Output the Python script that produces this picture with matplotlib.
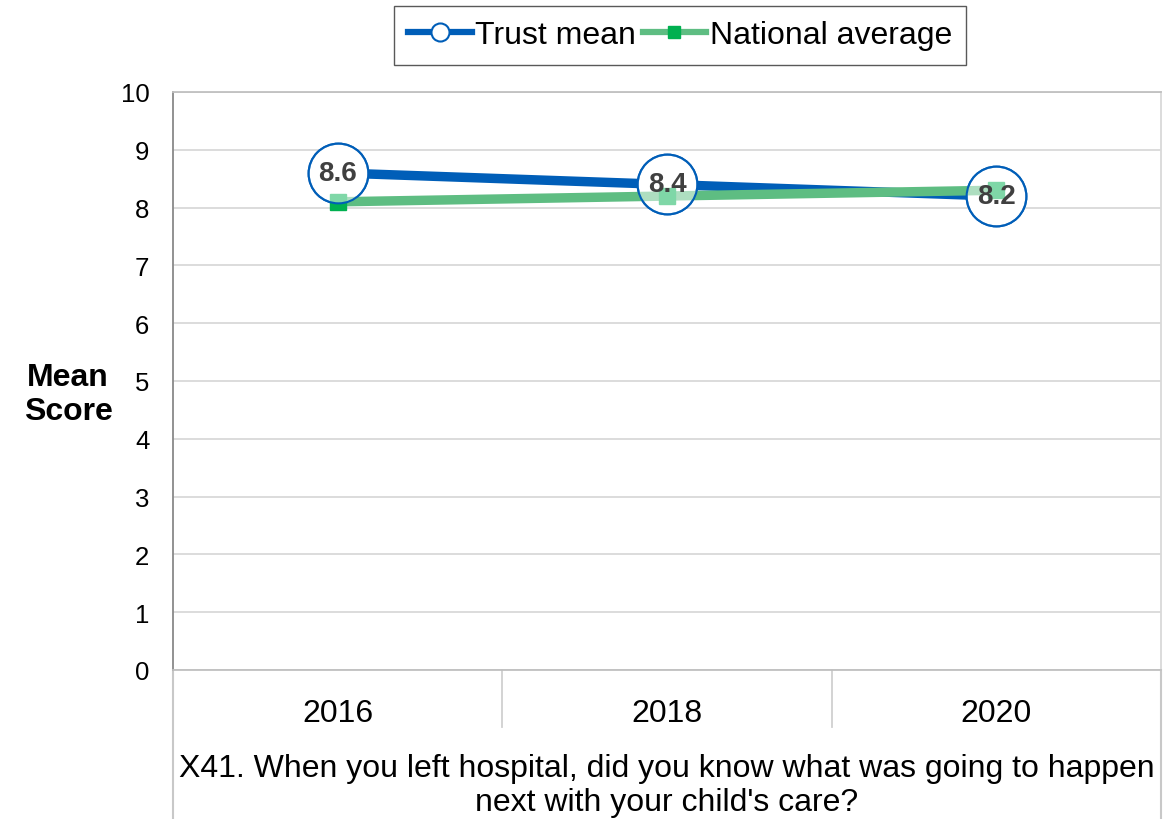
# Trust mean vs national average - line chart
import numpy as np
import matplotlib.pyplot as plt
from matplotlib.lines import Line2D

plt.rcParams['font.family'] = ['Liberation Sans', 'DejaVu Sans']

# data
years = ['2016', '2018', '2020']
trust_mean = [8.6, 8.4, 8.2]
national_avg = [8.1, 8.2, 8.3]
question = "X41. When you left hospital, did you know what was going to happen\nnext with your child's care?"

blue = '#005EB8'
green_line = '#5EBD82'
green_mark = '#00B050'

fig = plt.figure(figsize=(11.76, 8.2), dpi=100)
ax = fig.add_axes([173/1176, 1 - 671/820, 988/1176, 578/820])

x = np.arange(len(years)) + 0.5

# trust mean line with opaque white markers
ax.plot(x, trust_mean, color=blue, lw=6.8, solid_capstyle='butt', zorder=2,
        marker='o', markersize=43, markerfacecolor='white', markeredgecolor=blue,
        markeredgewidth=1.5)
# national average on top
ax.plot(x, national_avg, color=green_line, lw=6.8, solid_capstyle='butt', zorder=3,
        marker='s', markersize=11, markerfacecolor=green_mark, markeredgecolor=green_mark)
# semi transparent label circles
ax.plot(x, trust_mean, ls='none', marker='o', markersize=43,
        markerfacecolor=(1, 1, 1, 0.5), markeredgecolor=blue, markeredgewidth=1.5, zorder=4)
for xi, v in zip(x, trust_mean):
    ax.text(xi, v, f'{v:.1f}', ha='center', va='center', fontsize=20,
            fontweight='bold', color='#404040', zorder=5)

ax.set_xlim(0, 3)
ax.set_ylim(0, 10)
ax.set_yticks(range(0, 11))
ax.tick_params(axis='y', length=0, pad=17, labelsize=18.5)
ax.set_xticks(x)
ax.set_xticklabels(years)
ax.tick_params(axis='x', length=0, pad=20, labelsize=23)
ax.grid(axis='y', color='#d9d9d9', lw=1.3)
ax.set_axisbelow(True)

ax.spines['left'].set_color('#898989')
ax.spines['top'].set_color('#c0c0c0')
ax.spines['bottom'].set_color('#c0c0c0')
ax.spines['right'].set_color('#d9d9d9')
for s in ax.spines.values():
    s.set_linewidth(1.3)

# category separators and outer frame below the axis
sep_bottom = -(728 - 671) / 578
frame_bottom = -(822 - 671) / 578
for xs in [1/3, 2/3]:
    ax.plot([xs, xs], [0, sep_bottom], transform=ax.transAxes, color='#d0d0d0',
            lw=1.3, clip_on=False)
for xs in [0, 1]:
    ax.plot([xs, xs], [0, frame_bottom], transform=ax.transAxes, color='#c8c8c8',
            lw=1.5, clip_on=False)

ax.text(0.5, -(786 - 671) / 578, question, transform=ax.transAxes, ha='center',
        va='center', fontsize=23, linespacing=1.15)

ax.set_ylabel('Mean\nScore', rotation=0, fontsize=23, fontweight='bold',
              ha='center', va='center', linespacing=1.15)
ax.yaxis.set_label_coords(-(173 - 68) / 988, (671 - 395) / 578)

handles = [
    Line2D([], [], color=blue, lw=4.5, marker='o', markersize=13,
           markerfacecolor='white', markeredgecolor=blue, markeredgewidth=1.5),
    Line2D([], [], color=green_line, lw=4.5, marker='s', markersize=9,
           markerfacecolor=green_mark, markeredgecolor=green_mark),
]
fig.legend(handles, ['Trust mean', 'National average'], loc='upper center',
           bbox_to_anchor=(680/1176, 1 - 7/820), ncol=2, fontsize=23,
           frameon=True, fancybox=False, edgecolor='#595959', framealpha=1,
           handlelength=2.0, handletextpad=0.1, columnspacing=0.2,
           borderpad=0.45, borderaxespad=0)

fig.savefig('out.png', dpi=100)
